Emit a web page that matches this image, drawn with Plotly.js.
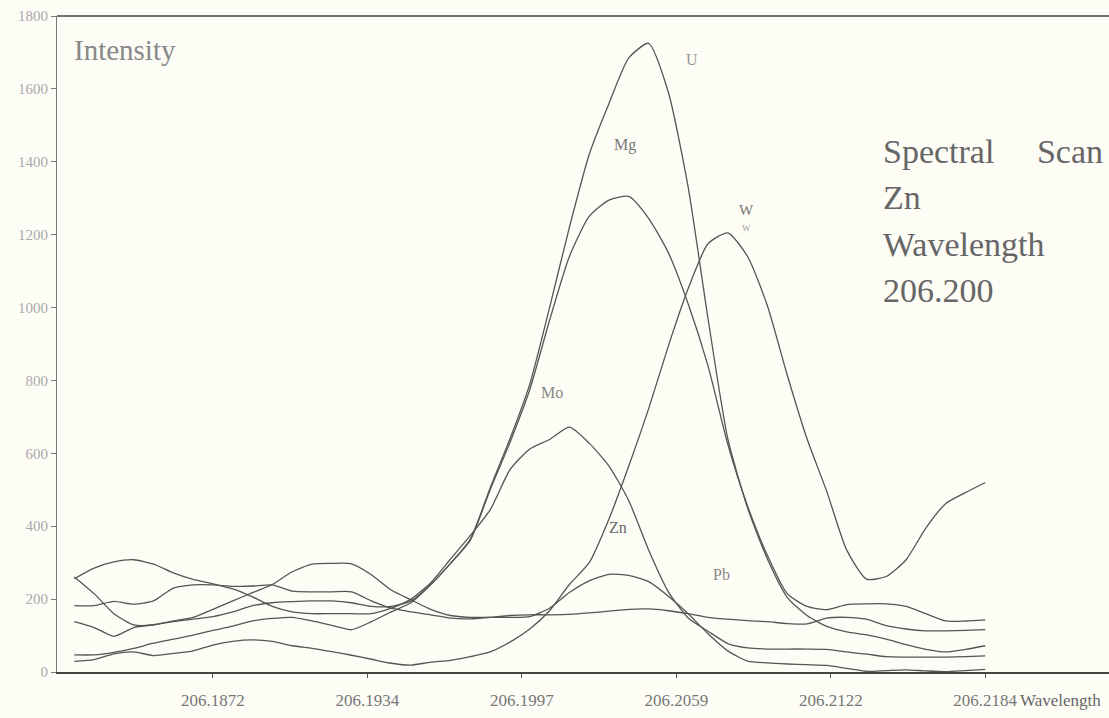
<!DOCTYPE html>
<html><head><meta charset="utf-8">
<script src="https://cdn.plot.ly/plotly-3.0.1.min.js"></script>
<style>html,body{margin:0;padding:0;background:#fdfdf6}</style></head>
<body><div id="chart" style="width:1109px;height:718px"></div>
<script>
const wavelengths = [206.1816,206.1824,206.1832,206.1840,206.1848,206.1856,206.1864,206.1872,206.1880,206.1888,
  206.1896,206.1904,206.1912,206.1920,206.1928,206.1936,206.1944,206.1952,206.1960,206.1968,
  206.1976,206.1984,206.1992,206.2000,206.2008,206.2016,206.2024,206.2032,206.2040,206.2048,
  206.2056,206.2064,206.2072,206.2080,206.2088,206.2096,206.2104,206.2112,206.2120,206.2128,
  206.2136,206.2144,206.2152,206.2160,206.2168,206.2176,206.2184];

const U  = [47,47,54,65,79,90,101,114,126,140,147,150,140,128,116,138,165,190,240,298,365,505,640,790,1000,1220,1420,1560,1685,1725,1590,1330,970,640,450,310,205,155,125,110,102,90,75,62,55,62,72];
const Mg = [138,122,98,122,130,138,145,152,165,182,190,193,195,195,190,180,180,195,240,298,362,500,630,775,965,1140,1250,1295,1305,1245,1150,1010,840,625,455,320,215,180,171,185,187,187,180,160,140,140,143];
const W  = [29,34,50,55,45,51,58,74,84,88,84,72,65,56,46,35,24,19,27,32,42,55,82,118,168,240,300,420,565,722,895,1052,1175,1205,1140,1005,815,640,495,335,255,262,308,395,462,492,520];
const Mo = [256,285,302,308,296,272,254,242,228,206,180,165,160,160,160,160,175,200,245,310,375,445,555,612,638,672,628,565,470,335,220,148,112,78,66,63,63,63,62,55,49,42,41,41,41,42,44];
const Zn = [261,215,160,129,129,140,150,172,195,218,240,275,296,298,297,267,225,198,172,155,150,150,150,152,175,218,250,268,265,248,208,160,105,58,30,25,22,20,18,10,2,4,6,3,1,4,7];
const Pb = [182,182,194,186,195,230,239,239,235,236,239,222,220,220,220,195,175,165,157,148,146,150,155,157,157,158,162,167,172,173,168,160,150,145,141,138,133,132,148,150,145,127,118,113,113,114,116];

const tickValues = [206.1872,206.19344,206.19968,206.20592,206.21216,206.2184];
const tickLabels = ["206.1872","206.1934","206.1997","206.2059","206.2122","206.2184"];
const yTicks = [0,200,400,600,800,1000,1200,1400,1600,1800];

const series = {U:U, Mg:Mg, W:W, Mo:Mo, Zn:Zn, Pb:Pb};
const traces = Object.keys(series).map(name => ({
  x: wavelengths, y: series[name], name: name, type: 'scatter', mode: 'lines',
  line: {color: '#555', width: 1.3, shape: 'spline', smoothing: 0.6},
  showlegend: false, hoverinfo: 'x+y+name'
}));

const serif = 'Liberation Serif, Times New Roman, serif';
function ann(text, x, y, size, color, xanchor) {
  return {text: text, x: x, y: y, xref: 'paper', yref: 'paper', showarrow: false,
    xanchor: xanchor || 'center', yanchor: 'middle',
    font: {family: serif, size: size, color: color || '#666'}};
}

const layout = {
  width: 1109, height: 718,
  margin: {l: 57, r: 0, t: 16, b: 46},
  paper_bgcolor: '#fdfdf6', plot_bgcolor: '#fdfdf6',
  xaxis: {range: [206.1809, 206.2234], tickvals: tickValues, ticktext: tickLabels,
    ticks: 'outside', ticklen: 4, tickcolor: '#555', showline: true, linecolor: '#444', linewidth: 1.5,
    showgrid: false, zeroline: false, ticklabelstandoff: 8,
    tickfont: {family: serif, size: 17, color: '#777'}},
  yaxis: {range: [0, 1800], tickvals: yTicks, ticks: 'outside', ticklen: 5, tickcolor: '#777',
    showline: true, linecolor: '#777', linewidth: 1, showgrid: false, zeroline: false,
    tickfont: {family: serif, size: 15, color: '#aaa'}},
  shapes: [{type: 'line', xref: 'paper', yref: 'paper', x0: 0, x1: 1, y0: 1, y1: 1,
    line: {color: '#444', width: 1.5}}],
  annotations: [
    ann('Intensity', 0.0143, 0.948, 29, '#888', 'left'),
    ann('U', 0.6036, 0.933, 16, '#999'),
    ann('Mg', 0.540, 0.803, 16, '#777'),
    ann('W', 0.655, 0.704, 15, '#777'),
    ann('W', 0.655, 0.677, 9, '#999'),
    ann('Mo', 0.4705, 0.4268, 16, '#888'),
    ann('Zn', 0.5333, 0.221, 16, '#666'),
    ann('Pb', 0.632, 0.149, 16, '#888'),
    ann('Spectral\u00a0\u00a0\u00a0\u00a0\u00a0Scan', 0.7833, 0.794, 34, '#666', 'left'),
    ann('Zn', 0.7833, 0.7226, 34, '#666', 'left'),
    ann('Wavelength', 0.7833, 0.651, 34, '#666', 'left'),
    ann('206.200', 0.7833, 0.582, 34, '#666', 'left'),
    ann('Wavelength', 0.9135, -0.0427, 17, '#666', 'left')
  ]
};

Plotly.newPlot('chart', traces, layout, {displayModeBar: false, staticPlot: true});
</script></body></html>
